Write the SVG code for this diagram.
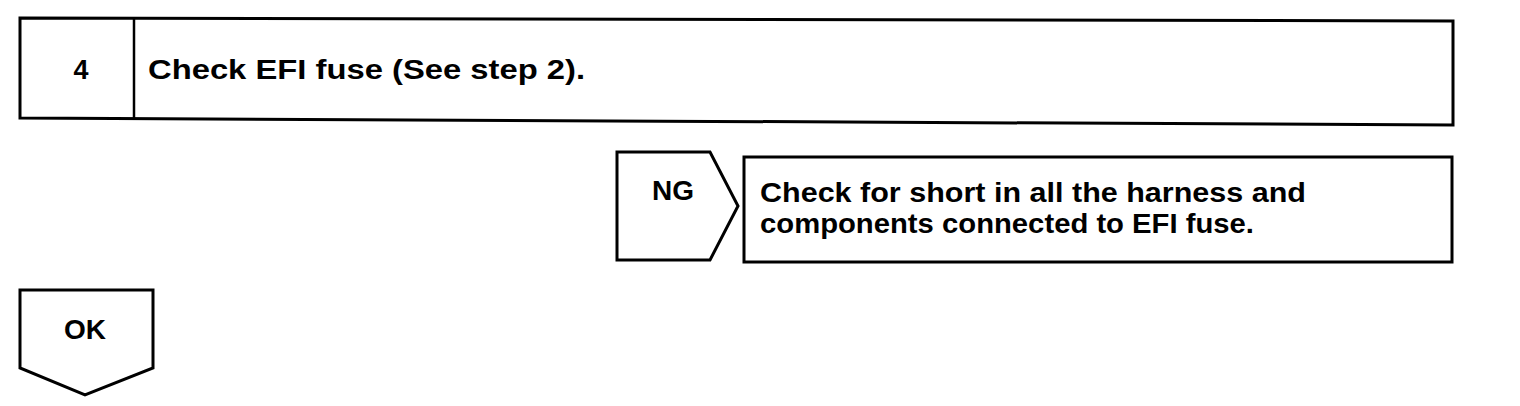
<svg xmlns="http://www.w3.org/2000/svg" width="1520" height="406" viewBox="0 0 1520 406">
<style>
.box{fill:#fff;stroke:#000;stroke-width:3;stroke-linejoin:miter}
.t{font-family:"Liberation Sans",Arial,sans-serif;font-weight:bold;fill:#000;font-size:27px}
</style>
<rect width="1520" height="406" fill="#fff"/>
<g id="step4">
<polygon class="box" points="20,18 1453,21 1453,125 20,118"/>
<line x1="134" y1="18" x2="134" y2="119" stroke="#000" stroke-width="2.5"/>
<text class="t" x="81" y="79" text-anchor="middle" textLength="15" lengthAdjust="spacingAndGlyphs">4</text>
<text class="t" x="148" y="79" textLength="437" lengthAdjust="spacingAndGlyphs">Check EFI fuse (See step 2).</text>
</g>
<g id="ng">
<polygon class="box" points="617,152 710,152 738,206 710,260 617,260"/>
<text class="t" x="673" y="200" text-anchor="middle" textLength="42" lengthAdjust="spacingAndGlyphs">NG</text>
</g>
<g id="action">
<rect class="box" x="744" y="157" width="708" height="105"/>
<text class="t" x="760" y="202" textLength="546" lengthAdjust="spacingAndGlyphs">Check for short in all the harness and</text>
<text class="t" x="760" y="233" textLength="494" lengthAdjust="spacingAndGlyphs">components connected to EFI fuse.</text>
</g>
<g id="ok">
<polygon class="box" points="20,290 153,290 153,368 85,395 20,368"/>
<text class="t" x="85" y="339" text-anchor="middle" textLength="42" lengthAdjust="spacingAndGlyphs">OK</text>
</g>
<g id="connectors"></g>
</svg>
